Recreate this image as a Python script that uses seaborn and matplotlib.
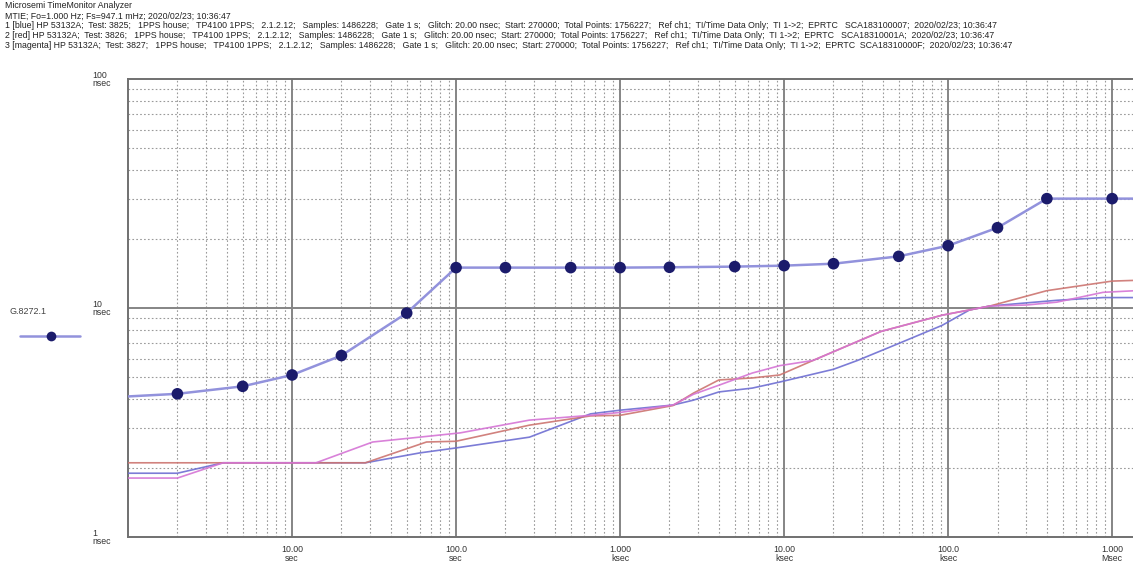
import numpy as np
import matplotlib
matplotlib.use("Agg")
import matplotlib.pyplot as plt
import seaborn as sns

sns.set_style("white")
plt.rcParams['font.family'] = ['Liberation Sans', 'DejaVu Sans']

# ======================
# Data
# ======================
header_lines = [
    "Microsemi TimeMonitor Analyzer",
    "MTIE; Fo=1.000 Hz; Fs=947.1 mHz; 2020/02/23; 10:36:47",
    "1 [blue] HP 53132A;  Test: 3825;   1PPS house;   TP4100 1PPS;   2.1.2.12;   Samples: 1486228;   Gate 1 s;   Glitch: 20.00 nsec;  Start: 270000;  Total Points: 1756227;   Ref ch1;  TI/Time Data Only;  TI 1->2;  EPRTC   SCA183100007;  2020/02/23; 10:36:47",
    "2 [red] HP 53132A;  Test: 3826;   1PPS house;   TP4100 1PPS;   2.1.2.12;   Samples: 1486228;   Gate 1 s;   Glitch: 20.00 nsec;  Start: 270000;  Total Points: 1756227;   Ref ch1;  TI/Time Data Only;  TI 1->2;  EPRTC   SCA18310001A;  2020/02/23; 10:36:47",
    "3 [magenta] HP 53132A;  Test: 3827;   1PPS house;   TP4100 1PPS;   2.1.2.12;   Samples: 1486228;   Gate 1 s;   Glitch: 20.00 nsec;  Start: 270000;  Total Points: 1756227;   Ref ch1;  TI/Time Data Only;  TI 1->2;  EPRTC  SCA18310000F;  2020/02/23; 10:36:47",
]

# G.8272.1 mask (seconds, nsec)
mask_tau = [1, 2, 5, 10, 20, 50, 100, 200, 500, 1000, 2000, 5000, 10000,
            20000, 50000, 100000, 200000, 400000, 1000000, 1400000]
mask_ns = [4.11, 4.22, 4.55, 5.1, 6.2, 9.5, 15.0, 15.0, 15.0, 15.0, 15.05,
           15.15, 15.3, 15.6, 16.8, 18.7, 22.4, 30.0, 30.0, 30.0]

blue_tau = [1, 2, 3.8, 28, 60, 100, 280, 660, 1000, 2100, 2800, 4000, 6400,
            9400, 20000, 28000, 50000, 92000, 135000, 180000, 460000, 880000, 1400000]
blue_ns = [1.9, 1.9, 2.11, 2.11, 2.33, 2.45, 2.73, 3.45, 3.58, 3.77, 3.96, 4.3,
           4.47, 4.75, 5.4, 5.9, 7.0, 8.4, 9.8, 10.2, 10.8, 11.1, 11.1]

red_tau = [1, 28, 66, 100, 280, 660, 1000, 2100, 2800, 4000, 6400, 9400,
           15000, 39000, 92000, 180000, 400000, 1000000, 1400000]
red_ns = [2.11, 2.11, 2.6, 2.62, 3.08, 3.38, 3.4, 3.75, 4.25, 4.85, 4.95, 5.1,
          5.9, 7.9, 9.3, 10.2, 11.9, 13.1, 13.2]

magenta_tau = [1, 2, 3.8, 14, 31, 80, 106, 280, 660, 1000, 2100, 2800, 4000,
               6400, 9400, 15000, 39000, 92000, 180000, 300000, 460000, 880000, 1400000]
magenta_ns = [1.81, 1.81, 2.11, 2.11, 2.6, 2.79, 2.85, 3.24, 3.4, 3.5, 3.77, 4.2,
              4.6, 5.2, 5.6, 5.9, 7.9, 9.3, 10.2, 10.3, 10.6, 11.7, 11.9]

x_ticks = [10, 100, 1000, 10000, 100000, 1000000]
x_labels = ["10.00\nsec", "100.0\nsec", "1.000\nksec", "10.00\nksec", "100.0\nksec", "1.000\nMsec"]
y_ticks = [1, 10, 100]
y_labels = ["1\nnsec", "10\nnsec", "100\nnsec"]
legend_label = "G.8272.1"

# ======================
# Figure
# ======================
fig = plt.figure(figsize=(11.33, 5.63), dpi=100)
ax = fig.add_axes([0.113, 0.046, 0.887, 0.814])
ax.set_xscale('log')
ax.set_yscale('log')
ax.set_xlim(1, 1.34e6)
ax.set_ylim(1, 100)

# grid: dotted minors, solid decades
minor_x = [m * 10 ** d for d in range(0, 7) for m in range(2, 10)]
minor_y = [m * 10 ** d for d in range(0, 2) for m in range(2, 10)]
for v in minor_x:
    if v < 1.34e6:
        ax.axvline(v, color='#9a9a9a', lw=0.8, ls=(0, (1.5, 2)), zorder=1)
for v in minor_y:
    ax.axhline(v, color='#9a9a9a', lw=0.8, ls=(0, (1.5, 2)), zorder=1)
for v in x_ticks:
    ax.axvline(v, color='#858585', lw=1.4, zorder=1)
ax.axhline(10, color='#858585', lw=1.4, zorder=1)

curve_colors = {'blue': '#6e6ed2', 'red': '#cc7470', 'magenta': '#d574d5'}
sns.lineplot(x=blue_tau, y=blue_ns, ax=ax, color=curve_colors['blue'], lw=1.2,
             estimator=None, sort=False, alpha=0.9, zorder=3)
sns.lineplot(x=red_tau, y=red_ns, ax=ax, color=curve_colors['red'], lw=1.2,
             estimator=None, sort=False, alpha=0.9, zorder=3)
sns.lineplot(x=magenta_tau, y=magenta_ns, ax=ax, color=curve_colors['magenta'], lw=1.2,
             estimator=None, sort=False, alpha=0.9, zorder=3)

# mask line + markers
sns.lineplot(x=mask_tau, y=mask_ns, ax=ax, color='#9292dc', lw=1.8,
             estimator=None, sort=False, zorder=4)
sns.scatterplot(x=mask_tau[1:-1], y=mask_ns[1:-1], ax=ax, color='#1b1b6b',
                s=70, edgecolor='none', zorder=5)

for side in ['left', 'top', 'bottom']:
    ax.spines[side].set_color('#707070')
    ax.spines[side].set_linewidth(1.4)
ax.spines['right'].set_visible(False)

ax.set_xticks(x_ticks)
ax.set_xticklabels(x_labels, fontsize=6.3, color='#333333', linespacing=0.9)
ax.xaxis.set_minor_locator(matplotlib.ticker.NullLocator())
ax.tick_params(axis='x', length=0, pad=6)

ax.set_yticks(y_ticks)
ax.set_yticklabels(y_labels, fontsize=6.3, color='#333333', linespacing=0.9)
ax.yaxis.set_minor_locator(matplotlib.ticker.NullLocator())
ax.tick_params(axis='y', length=0, pad=26)
for lbl in ax.get_yticklabels():
    lbl.set_horizontalalignment('left')

ax.set_xlabel('')
ax.set_ylabel('')

# header text
for i, line in enumerate(header_lines):
    fig.text(0.004, 1 - (6 + 10 * i) / 563, line, fontsize=6.3, color='#222222',
             ha='left', va='center')

# legend at left
fig.text(10 / 1133, 1 - 311 / 563, legend_label, fontsize=6.5, color='#444444',
         ha='left', va='center')
fig.add_artist(matplotlib.lines.Line2D([20 / 1133, 80 / 1133], [1 - 336 / 563] * 2,
                                       color='#9292dc', lw=1.8))
fig.add_artist(matplotlib.lines.Line2D([51 / 1133], [1 - 336 / 563], marker='o',
                                       markersize=7, color='#1b1b6b', markeredgewidth=0))

fig.savefig('out.png', dpi=100)
